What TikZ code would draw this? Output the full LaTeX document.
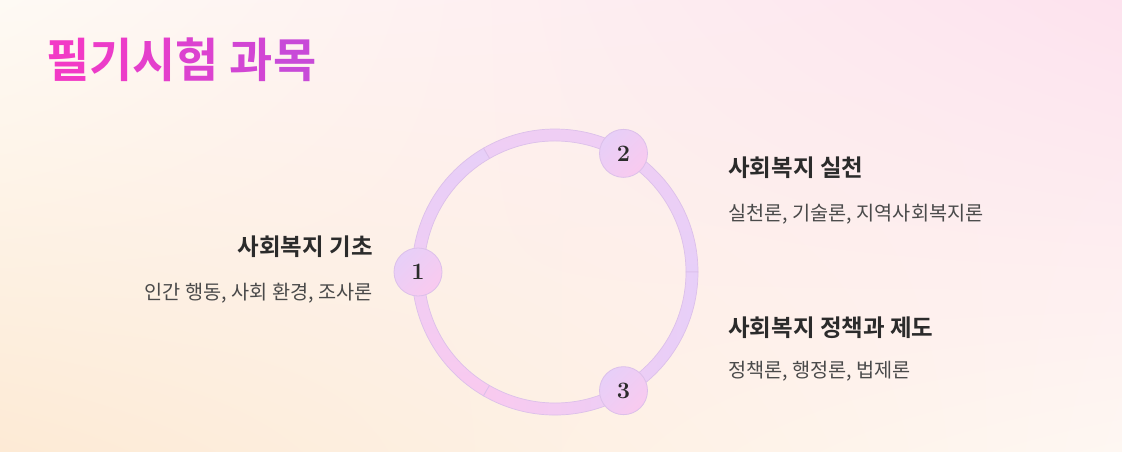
\documentclass[tikz,border=0pt]{standalone}
\usepackage{fontspec}
\usetikzlibrary{shadings,calc}
\newfontfamily\kr{Noto Sans CJK KR}
\newfontfamily\krb{Noto Sans CJK KR Bold}
\definecolor{bgTL}{HTML}{FEFAF4}
\definecolor{bgTR}{HTML}{FDE2EE}
\definecolor{bgBL}{HTML}{FDEAD5}
\definecolor{bgBR}{HTML}{FEF7F2}
\definecolor{lav}{HTML}{E7CFF8}
\definecolor{pnk}{HTML}{F9CAEF}
\definecolor{mid}{HTML}{F0CEF4}
\definecolor{edge}{HTML}{DCC0EA}
\definecolor{head}{HTML}{2B2B2B}
\definecolor{sub}{HTML}{4A4A4A}
\definecolor{t1}{HTML}{F23AC6}
\definecolor{t2}{HTML}{EC3CC9}
\definecolor{t3}{HTML}{E43FCC}
\definecolor{t4}{HTML}{DC42D0}
\definecolor{t5}{HTML}{D245D4}
\definecolor{t6}{HTML}{C84AD8}
\begin{document}
\begin{tikzpicture}[x=1pt,y=-1pt,
  headtxt/.style={inner sep=0pt,text=head,font=\krb\fontsize{23.5}{28}\selectfont},
  subtxt/.style={inner sep=0pt,text=sub,font=\kr\fontsize{19.7}{24}\selectfont},
  numnode/.style={circle,minimum size=48pt,inner sep=0pt,draw=edge,line width=0.8pt,
    shading=axis,left color=lav,right color=pnk,shading angle=45,
    font=\bfseries\fontsize{23.5}{28}\selectfont,text=head},
  seg/.style={draw=edge,line width=0.7pt}]
\useasboundingbox (0,0) rectangle (1122,451);
\shade[upper left=bgTL,upper right=bgTR,lower left=bgBL,lower right=bgBR] (0,0) rectangle (1122,451);
% title
\node[anchor=base west,inner sep=0pt,font=\krb\fontsize{47}{56}\selectfont] (title) at (46,77)
  {\textcolor{t1}{필}\textcolor{t2}{기}\textcolor{t3}{시}\textcolor{t4}{험} \textcolor{t5}{과}\textcolor{t6}{목}};
% ring
\coordinate (c) at (555,272);
\shade[seg,left color=mid,right color=lav,shading angle=0]
  ($(c)+(0:143)$) arc[start angle=0,end angle=-120,radius=143] -- ($(c)+(-120:131)$) arc[start angle=-120,end angle=0,radius=131] -- cycle;
\shade[seg,top color=lav,bottom color=pnk]
  ($(c)+(-120:143)$) arc[start angle=-120,end angle=-240,radius=143] -- ($(c)+(-240:131)$) arc[start angle=-240,end angle=-120,radius=131] -- cycle;
\shade[seg,left color=pnk,right color=lav]
  ($(c)+(-240:143)$) arc[start angle=-240,end angle=-360,radius=143] -- ($(c)+(-360:131)$) arc[start angle=-360,end angle=-240,radius=131] -- cycle;
% numbered nodes
\node[numnode] (n1) at ($(c)+(180:137)$) {1};
\node[numnode] (n2) at ($(c)+(-60:137)$) {2};
\node[numnode] (n3) at ($(c)+(60:137)$) {3};
% texts
\node[headtxt,anchor=base east] (h1) at (373,255) {사회복지 기초};
\node[subtxt,anchor=base east] (s1) at (373,299) {인간 행동, 사회 환경, 조사론};
\node[headtxt,anchor=base west] (h2) at (728,176) {사회복지 실천};
\node[subtxt,anchor=base west] (s2) at (728,220) {실천론, 기술론, 지역사회복지론};
\node[headtxt,anchor=base west] (h3) at (728,336) {사회복지 정책과 제도};
\node[subtxt,anchor=base west] (s3) at (728,377) {정책론, 행정론, 법제론};
\end{tikzpicture}
\end{document}
